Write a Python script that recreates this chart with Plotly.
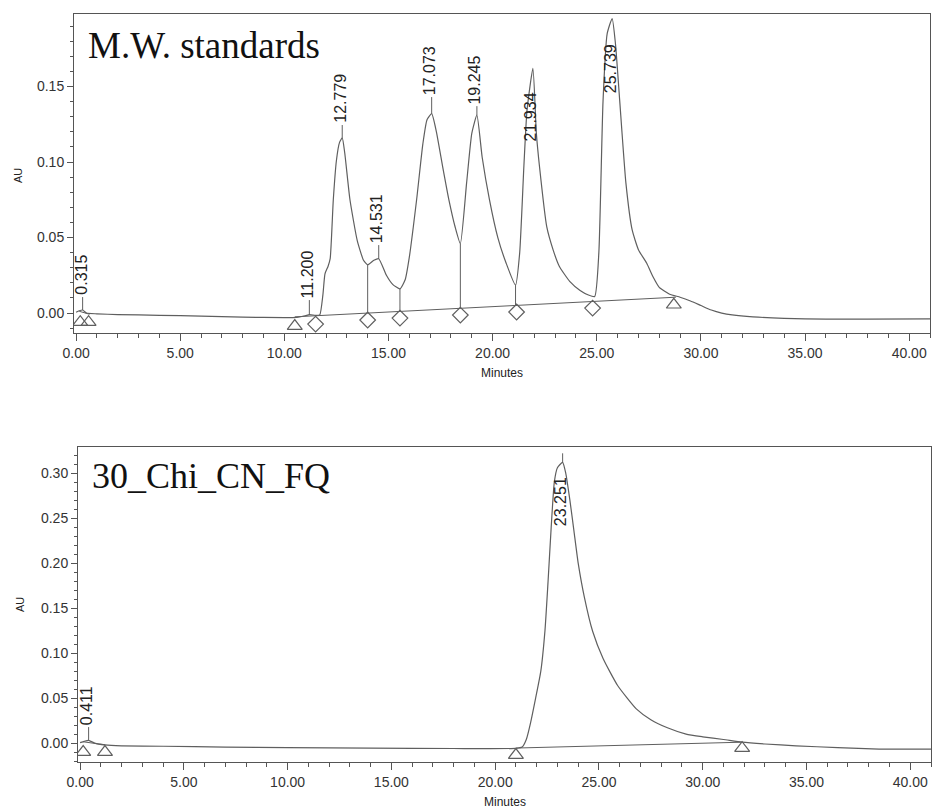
import numpy as np
import plotly.graph_objects as go

# ---------------- data: top chromatogram (M.W. standards) ----------------
top_time = [0.00, 0.15, 0.315, 0.5, 1.0, 2.0, 4.0, 6.0, 8.0, 10.0, 10.6, 11.0, 11.2, 11.5, 11.7,
            11.85, 11.95, 12.1, 12.2, 12.35, 12.5, 12.65, 12.779, 12.9, 13.15, 13.5, 13.8, 14.0,
            14.3, 14.531, 14.9, 15.2, 15.55, 15.8, 16.0, 16.35, 16.65, 16.85, 17.073, 17.3, 17.6,
            17.9, 18.2, 18.45, 18.75, 19.0, 19.245, 19.5, 19.85, 20.25, 20.65, 21.1, 21.3, 21.5,
            21.65, 21.934, 22.1, 22.25, 22.6, 22.9, 23.2, 23.7, 24.2, 24.6, 24.9, 25.1, 25.3, 25.5,
            25.739, 25.9, 26.1, 26.4, 26.7, 27.0, 27.4, 27.7, 28.0, 28.5, 29.0, 29.5, 30.0, 30.5,
            31.0, 31.5, 32.5, 34.0, 36.0, 38.0, 41.0]
top_au = [0.0005, 0.0015, 0.002, 0.0, -0.0005, -0.001, -0.0015, -0.002, -0.0027, -0.003, -0.0028,
          -0.0018, -0.001, -0.0015, -0.0012,
          0.012, 0.026, 0.031, 0.036, 0.075, 0.101, 0.113, 0.116, 0.106, 0.075, 0.048, 0.035, 0.032,
          0.035, 0.036, 0.025, 0.019, 0.016, 0.022, 0.037, 0.075, 0.112, 0.128, 0.132, 0.12, 0.097,
          0.075, 0.057, 0.046, 0.086, 0.119, 0.131, 0.103, 0.075, 0.05, 0.033, 0.0185, 0.04, 0.097,
          0.134, 0.162, 0.119, 0.097, 0.057, 0.042, 0.031, 0.021, 0.015, 0.012, 0.011, 0.04, 0.14, 0.185,
          0.195, 0.178, 0.141, 0.086, 0.055, 0.042, 0.033, 0.024, 0.017, 0.0125, 0.0105, 0.008, 0.005, 0.002,
          0.0, -0.0012, -0.0025, -0.0035, -0.004, -0.004, -0.0038]

top_base_time = [10.5, 28.8]
top_base_au = [-0.0025, 0.0105]
top_base0_time = [0.15, 0.65]
top_base0_au = [0.0012, -0.0008]

top_peak_labels = ["0.315", "11.200", "12.779", "14.531", "17.073", "19.245", "21.934", "25.739"]
top_peak_time = [0.315, 11.2, 12.779, 14.531, 17.073, 19.245, 21.934, 25.739]
top_peak_au = [0.002, -0.001, 0.116, 0.036, 0.132, 0.131, 0.162, 0.195]
top_label_au = [0.0106, 0.0086, 0.1245, 0.045, 0.143, 0.137, 0.1126, 0.144]

top_valley_time = [14.0, 15.55, 18.45, 21.1]
top_valley_au = [0.032, 0.016, 0.046, 0.0185]

top_tri_time = [0.2, 0.6, 10.5, 28.7]
top_tri_au = [-0.006, -0.006, -0.0086, 0.0055]
top_dia_time = [11.5, 14.0, 15.55, 18.45, 21.15, 24.8]
top_dia_au = [-0.0073, -0.0046, -0.0033, -0.0013, 0.0007, 0.0033]

# ---------------- data: bottom chromatogram (30_Chi_CN_FQ) ----------------
bot_time = [0.0, 0.2, 0.411, 0.7, 1.2, 2.0, 4.0, 7.0, 10.0, 14.0, 18.0, 21.0, 21.3, 21.5, 21.7,
            21.95, 22.2, 22.4, 22.55, 22.7, 22.85, 23.0, 23.251, 23.4, 23.6, 23.8, 24.0, 24.3, 24.7,
            25.2, 25.9, 26.8, 27.5, 28.3, 29.2, 30.0, 31.0, 31.9, 33.0, 34.5, 36.5, 38.5, 41.0]
bot_au = [0.0005, 0.002, 0.003, 0.0, -0.002, -0.003, -0.0035, -0.0044, -0.005, -0.0055, -0.006,
          -0.0058, -0.0044, 0.004, 0.022, 0.05, 0.08, 0.125, 0.18, 0.24, 0.29, 0.306, 0.312, 0.3,
          0.27, 0.235, 0.2, 0.162, 0.124, 0.094, 0.064, 0.038, 0.026, 0.017, 0.01, 0.007, 0.004,
          0.001, -0.001, -0.003, -0.005, -0.0066, -0.0067]

bot_base_time = [21.0, 31.9]
bot_base_au = [-0.0055, 0.001]
bot_base0_time = [0.15, 1.2]
bot_base0_au = [0.0015, -0.002]

bot_peak_labels = ["0.411", "23.251"]
bot_peak_time = [0.411, 23.251]
bot_peak_au = [0.003, 0.312]
bot_tick_top_au = [0.0178, 0.322]
bot_label_au = [0.0178, 0.239]

bot_tri_time = [0.15, 1.2, 21.0, 31.9]
bot_tri_au = [-0.010, -0.010, -0.0133, -0.0056]

x_ticks = [0, 5, 10, 15, 20, 25, 30, 35, 40]
x_ticktext = ["0.00", "5.00", "10.00", "15.00", "20.00", "25.00", "30.00", "35.00", "40.00"]
top_y_ticks = [0.0, 0.05, 0.10, 0.15]
bot_y_ticks = [0.0, 0.05, 0.10, 0.15, 0.20, 0.25, 0.30]

# ---------------- figure ----------------
W, H = 932, 810
LINE = "#5f5f5f"
FRAME = "#555555"
TXT = "#222222"

fig = go.Figure()


def segs(xs, y0s, y1s):
    X, Y = [], []
    for x, a, b in zip(xs, y0s, y1s):
        X += [x, x, None]
        Y += [a, b, None]
    return X, Y


def add_panel(xa, ya, t, au, base_t, base_au, base0_t, base0_au):
    fig.add_trace(go.Scatter(x=t, y=au, mode="lines", xaxis=xa, yaxis=ya,
                             line=dict(color=LINE, width=1.2, shape="spline", smoothing=0.5),
                             hoverinfo="skip"))
    for bt, ba in ((base_t, base_au), (base0_t, base0_au)):
        fig.add_trace(go.Scatter(x=bt, y=ba, mode="lines", xaxis=xa, yaxis=ya,
                                 line=dict(color=LINE, width=1), hoverinfo="skip"))


add_panel("x", "y", top_time, top_au, top_base_time, top_base_au, top_base0_time, top_base0_au)
add_panel("x2", "y2", bot_time, bot_au, bot_base_time, bot_base_au, bot_base0_time, bot_base0_au)

# drop lines (top)
vb = np.interp(top_valley_time, top_base_time, top_base_au)
X, Y = segs(top_valley_time, vb, top_valley_au)
fig.add_trace(go.Scatter(x=X, y=Y, mode="lines", xaxis="x", yaxis="y",
                         line=dict(color=LINE, width=1), hoverinfo="skip"))

# peak apex ticks (top)
tx, ty0, ty1 = [], [], []
for pt, pa, la in zip(top_peak_time, top_peak_au, top_label_au):
    if la > pa:
        tx.append(pt); ty0.append(pa); ty1.append(la)
X, Y = segs(tx, ty0, ty1)
fig.add_trace(go.Scatter(x=X, y=Y, mode="lines", xaxis="x", yaxis="y",
                         line=dict(color=LINE, width=1), hoverinfo="skip"))
# peak apex ticks (bottom)
X, Y = segs(bot_peak_time, bot_peak_au, bot_tick_top_au)
fig.add_trace(go.Scatter(x=X, y=Y, mode="lines", xaxis="x2", yaxis="y2",
                         line=dict(color=LINE, width=1), hoverinfo="skip"))

# markers
fig.add_trace(go.Scatter(x=top_tri_time, y=top_tri_au, mode="markers", xaxis="x", yaxis="y",
                         marker=dict(symbol="triangle-up-open", size=13, color=LINE,
                                     line=dict(width=1.2, color=LINE)), hoverinfo="skip"))
fig.add_trace(go.Scatter(x=top_dia_time, y=top_dia_au, mode="markers", xaxis="x", yaxis="y",
                         marker=dict(symbol="diamond-open", size=12, color=LINE,
                                     line=dict(width=1.2, color=LINE)), hoverinfo="skip"))
fig.add_trace(go.Scatter(x=bot_tri_time, y=bot_tri_au, mode="markers", xaxis="x2", yaxis="y2",
                         marker=dict(symbol="triangle-up-open", size=13, color=LINE,
                                     line=dict(width=1.2, color=LINE)), hoverinfo="skip"))

annotations = []
for lab, pt, la in zip(top_peak_labels, top_peak_time, top_label_au):
    annotations.append(dict(x=pt, y=la, xref="x", yref="y", text=lab, textangle=-90,
                            showarrow=False, xanchor="center", yanchor="bottom", xshift=-2,
                            font=dict(family="Liberation Sans, Arial", size=16, color=TXT)))
for lab, pt, la in zip(bot_peak_labels, bot_peak_time, bot_label_au):
    annotations.append(dict(x=pt, y=la, xref="x2", yref="y2", text=lab, textangle=-90,
                            showarrow=False, xanchor="center", yanchor="bottom", xshift=-2,
                            font=dict(family="Liberation Sans, Arial", size=16, color=TXT)))

# panel titles
annotations.append(dict(x=86 / W, y=1 - 45 / H, xref="paper", yref="paper", text="M.W. standards",
                        showarrow=False, xanchor="left", yanchor="middle",
                        font=dict(family="Liberation Serif, Times New Roman", size=37, color="#111")))
annotations.append(dict(x=90 / W, y=1 - 476 / H, xref="paper", yref="paper", text="30_Chi_CN_FQ",
                        showarrow=False, xanchor="left", yanchor="middle",
                        font=dict(family="Liberation Serif, Times New Roman", size=36, color="#111")))

# axis titles
for (xx, yy) in ((502, 373), (505, 802)):
    annotations.append(dict(x=xx / W, y=1 - yy / H, xref="paper", yref="paper", text="Minutes",
                            showarrow=False, xanchor="center", yanchor="middle",
                            font=dict(family="Liberation Sans, Arial", size=12, color=TXT)))
for (xx, yy) in ((18, 176), (20, 605)):
    annotations.append(dict(x=xx / W, y=1 - yy / H, xref="paper", yref="paper", text="AU",
                            textangle=-90, showarrow=False, xanchor="center", yanchor="middle",
                            font=dict(family="Liberation Sans, Arial", size=11, color=TXT)))

tickfont = dict(family="Liberation Sans, Arial", size=14, color="#333")


def xaxis(domain, anchor):
    return dict(domain=domain, anchor=anchor, range=[-0.1, 41.0], tickvals=x_ticks,
                ticktext=x_ticktext, ticks="outside", ticklen=7, tickcolor=FRAME,
                showline=True, linecolor=FRAME, linewidth=1, mirror=True, showgrid=False,
                zeroline=False, tickfont=tickfont, automargin=False,
                minor=dict(dtick=1, tick0=0, ticks="outside", ticklen=4, tickcolor=FRAME, showgrid=False))


def yaxis(domain, anchor, rng, tv):
    return dict(domain=domain, anchor=anchor, range=rng, tickvals=tv,
                ticktext=["%.2f" % v for v in tv], ticks="outside", ticklen=6, tickcolor=FRAME,
                showline=True, linecolor=FRAME, linewidth=1, mirror=True, showgrid=False,
                zeroline=False, tickfont=tickfont, automargin=False,
                minor=dict(dtick=0.01, tick0=0, ticks="outside", ticklen=3, tickcolor=FRAME, showgrid=False))


fig.update_layout(
    width=W, height=H, autosize=False,
    margin=dict(l=0, r=0, t=0, b=0, autoexpand=False),
    paper_bgcolor="white", plot_bgcolor="white",
    showlegend=False,
    xaxis=xaxis([74 / W, 930 / W], "y"),
    yaxis=yaxis([1 - 333 / H, 1 - 14 / H], "x", [-0.0132, 0.198], top_y_ticks),
    xaxis2=xaxis([78 / W, 931 / W], "y2"),
    yaxis2=yaxis([1 - 762 / H, 1 - 447 / H], "x2", [-0.021, 0.329], bot_y_ticks),
    annotations=annotations,
)

fig.write_html("out.html")
